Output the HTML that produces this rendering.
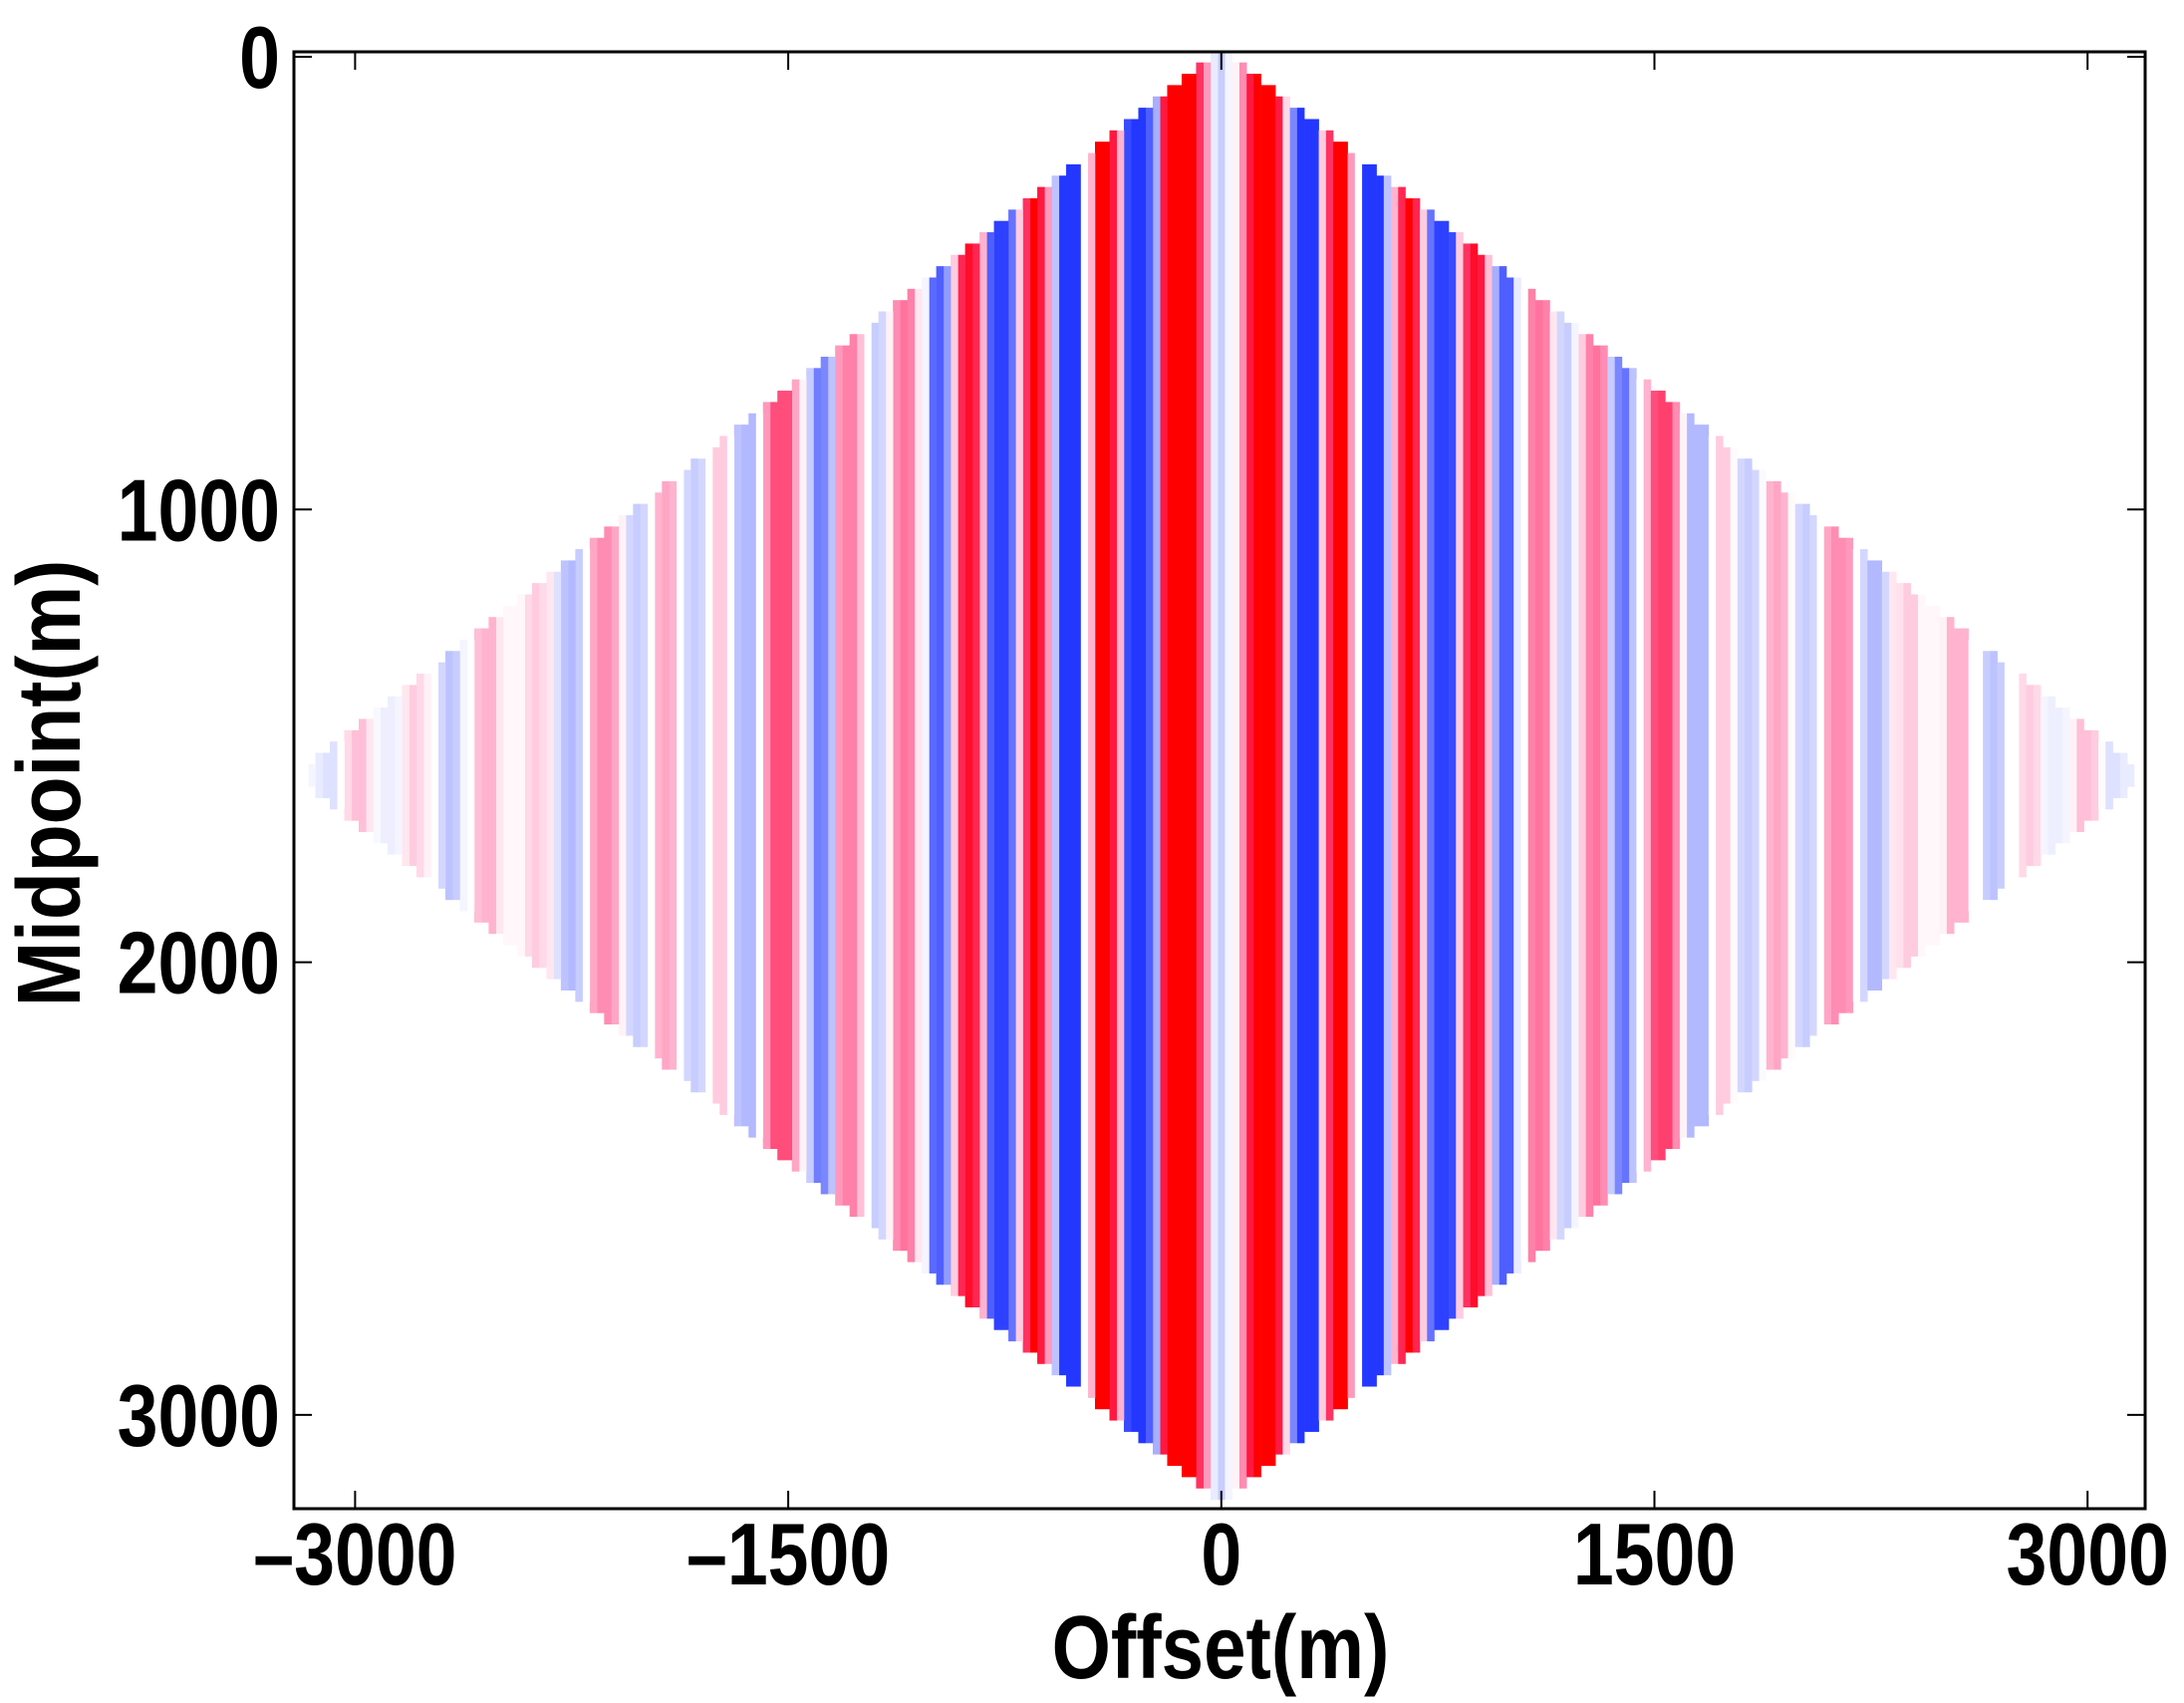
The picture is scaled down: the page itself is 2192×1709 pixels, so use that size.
<!DOCTYPE html>
<html><head><meta charset="utf-8"><style>
html,body{margin:0;padding:0;background:#fff;}
svg text{font-family:"Liberation Sans",Arial,sans-serif;font-weight:bold;fill:#000;}
</style></head><body>
<svg id="chart" width="2192" height="1704" viewBox="0 0 2192 1704" xmlns="http://www.w3.org/2000/svg">
<rect x="0" y="0" width="2192" height="1704" fill="#fff"/>
<g id="cells"></g>
<g id="axes"></g>
</svg>
<script>
// trace amplitudes by |offset| index (25 m steps), right side (offset >= 0)
const rightValues = [-0.25,-0.05,0.05,0.45,0.9,1,1,1,0.9,0.15,-0.6,-1,-1,-1,0.2,0.8,1,1,0.4,0,-1,-1,-1,-0.3,0.3,0.85,1,0.85,0.2,-0.7,-0.95,-0.95,-0.9,0.2,0.8,0.95,0.9,0.25,-0.4,-0.8,-0.8,-0.1,0,0.5,0.55,0.5,0.1,-0.2,-0.25,-0.05,0.2,0.5,0.55,0.45,-0.25,-0.6,-0.7,-0.3,0,0.3,0.7,0.75,0.75,0.45,0.05,-0.35,-0.35,-0.35,0,0.2,0.2,0.02,-0.2,-0.25,-0.2,-0.02,0.3,0.35,0.3,0.02,-0.2,-0.25,-0.2,0,0.35,0.45,0.45,0.4,0,-0.2,-0.35,-0.35,-0.2,0.1,0.12,0.2,0.2,0.03,0.03,0.03,0.05,0.3,0.3,0.3,0,0,-0.25,-0.3,-0.25,0,0,0.15,0.2,0.15,-0.05,-0.08,-0.08,-0.05,0.05,0.25,0.25,0.2,0.02,-0.15,-0.15,-0.1,-0.1,0];
// left side (offset < 0), index j = |offset|/25
const leftValues = [-0.25,-0.1,0.4,0.8,1,1,1,1,0.9,-0.4,-0.8,-1,-1,-0.9,0.3,0.9,1,1,0.3,0,-1,-1,-1,-0.3,0.4,0.9,1,0.8,0.2,-0.7,-0.95,-0.95,-0.8,0.3,0.85,0.95,0.85,0.2,-0.5,-0.8,-0.75,-0.05,0.1,0.5,0.55,0.45,0.05,-0.2,-0.25,0,0.25,0.5,0.5,0.4,-0.3,-0.6,-0.65,-0.25,0.05,0.35,0.7,0.7,0.7,0.4,0,-0.35,-0.35,-0.3,0,0.2,0.2,0,-0.2,-0.25,-0.2,0,0.3,0.35,0.3,0,-0.2,-0.25,-0.2,0.05,0.35,0.45,0.45,0.35,0,-0.25,-0.35,-0.3,-0.15,0.1,0.15,0.2,0.15,0.03,0.03,0.03,0.1,0.3,0.3,0.25,0,-0.05,-0.25,-0.3,-0.2,0,0.05,0.15,0.2,0.1,-0.05,-0.08,-0.08,-0.03,0.1,0.25,0.25,0.15,0,-0.15,-0.15,-0.1,-0.05,0];
const xTicks = [-3000,-1500,0,1500,3000];
const yTicks = [0,1000,2000,3000];
const xTickLabels = ["\u20133000","\u20131500","0","1500","3000"];
const yTickLabels = ["0","1000","2000","3000"];
const step = 25, maxMid = 3200;

const L=295, R=2153, T=52, B=1514;
const xS = h => 1225.8 + h*0.2898;
const yS = m => 57 + m*0.4543;
const NS="http://www.w3.org/2000/svg";
function color(v){
  v=Math.max(-1,Math.min(1,v));
  if(v>=0){const t=v;return `rgb(255,${Math.round(255*(1-t))},${Math.round(255*Math.pow(1-t,0.6))})`;}
  const t=-v;return `rgb(${Math.round(255*(1-t)+35*t)},${Math.round(255*(1-t)+55*t)},255)`;
}
const cells=document.getElementById('cells');
function drawCol(h,v){
  const half=Math.floor(Math.abs(h)/2/step)*step;
  const m0=half, m1=maxMid-half-step;
  if(m1<m0) return;
  const r=document.createElementNS(NS,'rect');
  
  
  const x0=xS(h-step/2), x1=xS(h+step/2);
  const y0=Math.max(T,yS(m0-step/2)), y1=yS(m1+step/2);
  r.setAttribute('x',x0);r.setAttribute('width',x1-x0+0.3);
  r.setAttribute('y',y0);r.setAttribute('height',y1-y0);
  r.setAttribute('fill',color(v));
  cells.appendChild(r);
}
rightValues.forEach((v,k)=>drawCol(k*step,v));
leftValues.forEach((v,j)=>{if(j>0)drawCol(-j*step,v);});

const ax=document.getElementById('axes');
function el(tag,attrs,name,text){
  const e=document.createElementNS(NS,tag);
  for(const k in attrs)e.setAttribute(k,attrs[k]);
  
  
  if(text!==undefined)e.textContent=text;
  ax.appendChild(e);return e;
}
el('rect',{x:L,y:T,width:R-L,height:B-T,fill:'none',stroke:'#000','stroke-width':3},'plot-frame');
xTicks.forEach((t,i)=>{
  const x=xS(t);
  el('line',{x1:x,y1:B,x2:x,y2:B-18,stroke:'#000','stroke-width':2},'x-tick');
  el('line',{x1:x,y1:T,x2:x,y2:T+18,stroke:'#000','stroke-width':2},'x-tick-top');
  el('text',{x:0,y:0,'text-anchor':'middle','font-size':72,transform:`translate(${x},1590) scale(1.02,1.22)`},'x-tick-label',xTickLabels[i]);
});
yTicks.forEach((t,i)=>{
  const y=yS(t);
  el('line',{x1:L,y1:y,x2:L+18,y2:y,stroke:'#000','stroke-width':2},'y-tick');
  el('line',{x1:R,y1:y,x2:R-18,y2:y,stroke:'#000','stroke-width':2},'y-tick-right');
  el('text',{x:0,y:0,'text-anchor':'end','font-size':72,transform:`translate(281,${y+31}) scale(1.02,1.22)`},'y-tick-label',yTickLabels[i]);
});
el('text',{x:0,y:0,'text-anchor':'middle','font-size':74,transform:'translate(1225,1684) scale(1.03,1.22)'},'x-axis-title','Offset(m)');
el('text',{x:0,y:0,'text-anchor':'middle','font-size':74,transform:'translate(80,786) rotate(-90) scale(1.06,1.22)'},'y-axis-title','Midpoint(m)');
</script>
</body></html>
